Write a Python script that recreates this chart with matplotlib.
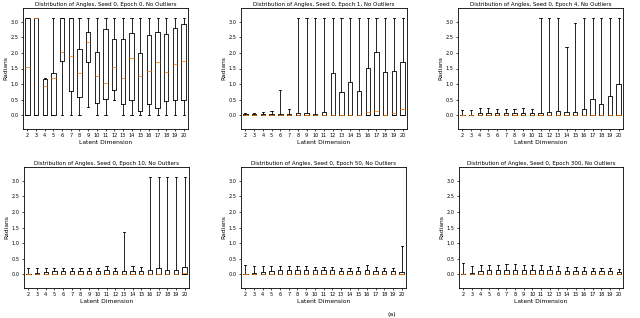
import matplotlib
matplotlib.use("Agg")
import matplotlib.pyplot as plt

dims = list(range(2, 21))
epochs = [0, 1, 4, 10, 50, 300]
PI = 3.14

# Epoch 0
e0_q1 = [0, 0, 0, 0, 1.73, 0.79, 0.59, 1.70, 0.38, 0.51, 0.82, 0.35, 0.49, 0.13, 0.35, 0.22, 0.44, 0.48, 0.48]
e0_med = [1.55, PI, 0.93, 1.19, 2.02, 1.91, 1.36, 2.37, 1.25, 1.04, 1.55, 1.20, 1.85, 1.25, 1.41, 1.71, 1.39, 1.66, 1.75]
e0_q3 = [PI, PI, 1.15, 1.36, PI, PI, 2.12, 2.69, 2.04, 2.77, 2.44, 2.45, 2.64, 1.99, 2.57, 2.69, 2.62, 2.80, 2.93]
e0_lo = [0, 0, 0, 0, 0, 0, 0, 0.26, 0, 0, 0.50, 0, 0, 0, 0, 0, 0, 0, 0]
e0_hi = [PI, PI, 1.18, PI, PI, PI, PI, PI, PI, PI, PI, PI, PI, PI, PI, PI, PI, PI, PI]

# Epoch 1
e1_q1 = [0] * 19
e1_med = [0, 0, 0, 0, 0, 0, 0, 0, 0, 0, 0, 0, 0, 0, 0.09, 0.12, 0, 0.05, 0.18]
e1_q3 = [0.02, 0.02, 0.02, 0.03, 0.02, 0.02, 0.05, 0.05, 0.04, 0.10, 1.36, 0.73, 1.06, 0.76, 1.52, 2.04, 1.39, 1.41, 1.71]
e1_lo = [0] * 19
e1_hi = [0.07, 0.07, 0.10, 0.13, 0.81, 0.19, PI, PI, PI, PI, PI, PI, PI, PI, PI, PI, PI, PI, PI]

# Epoch 4
e4_q1 = [0] * 19
e4_med = [0] * 19
e4_q3 = [0.01, 0.01, 0.05, 0.05, 0.05, 0.05, 0.05, 0.06, 0.05, 0.08, 0.11, 0.12, 0.09, 0.11, 0.21, 0.51, 0.34, 0.61, 1.00]
e4_lo = [0] * 19
e4_hi = [0.16, 0.16, 0.22, 0.22, 0.21, 0.19, 0.19, 0.22, 0.20, PI, PI, PI, 2.20, 2.97, PI, PI, PI, PI, PI]

# Epoch 10
e10_q1 = [0] * 19
e10_med = [0, 0, 0, 0, 0, 0, 0, 0, 0, 0, 0, 0, 0, 0, 0, 0, 0, 0, 0.03]
e10_q3 = [0.01, 0.03, 0.07, 0.10, 0.10, 0.10, 0.10, 0.10, 0.10, 0.12, 0.10, 0.09, 0.10, 0.10, 0.13, 0.20, 0.13, 0.13, 0.22]
e10_lo = [0] * 19
e10_hi = [0.20, 0.20, 0.20, 0.20, 0.20, 0.19, 0.20, 0.20, 0.19, 0.26, 0.20, 1.34, 0.25, 0.24, PI, PI, PI, PI, PI]

# Epoch 50
e50_q1 = [0] * 19
e50_med = [0.01] * 19
e50_q3 = [0.01, 0.03, 0.07, 0.10, 0.13, 0.13, 0.14, 0.13, 0.14, 0.14, 0.12, 0.11, 0.10, 0.11, 0.12, 0.10, 0.10, 0.10, 0.07]
e50_lo = [0] * 19
e50_hi = [0.30, 0.27, 0.27, 0.27, 0.27, 0.27, 0.25, 0.25, 0.24, 0.24, 0.23, 0.21, 0.21, 0.22, 0.28, 0.23, 0.21, 0.20, 0.90]

# Epoch 300
e300_q1 = [0] * 19
e300_med = [0.01] * 19
e300_q3 = [0.01, 0.04, 0.10, 0.12, 0.13, 0.13, 0.13, 0.13, 0.13, 0.13, 0.13, 0.11, 0.10, 0.10, 0.10, 0.10, 0.10, 0.10, 0.08]
e300_lo = [0] * 19
e300_hi = [0.35, 0.27, 0.30, 0.30, 0.30, 0.32, 0.32, 0.28, 0.28, 0.28, 0.27, 0.25, 0.23, 0.23, 0.22, 0.21, 0.21, 0.20, 0.17]

panels = [
    (e0_q1, e0_med, e0_q3, e0_lo, e0_hi),
    (e1_q1, e1_med, e1_q3, e1_lo, e1_hi),
    (e4_q1, e4_med, e4_q3, e4_lo, e4_hi),
    (e10_q1, e10_med, e10_q3, e10_lo, e10_hi),
    (e50_q1, e50_med, e50_q3, e50_lo, e50_hi),
    (e300_q1, e300_med, e300_q3, e300_lo, e300_hi),
]

fig = plt.figure(figsize=(6.4, 3.18), dpi=100)
W, H = 640, 318
rects = [
    (23, 8, 188, 129), (241, 8, 407, 129), (458, 8, 623, 129),
    (24, 167, 189, 288), (241, 167, 406, 288), (459, 167, 623, 288),
]

for (x0, y0, x1, y1), ep, (q1, med, q3, lo, hi) in zip(rects, epochs, panels):
    ax = fig.add_axes([x0 / W, 1 - y1 / H, (x1 - x0) / W, (y1 - y0) / H])
    stats = []
    for d, a, m, b, l, h in zip(dims, q1, med, q3, lo, hi):
        stats.append(dict(label=str(d), q1=a, med=m, q3=b, whislo=l, whishi=h, fliers=[]))
    ax.bxp(stats, positions=range(1, len(dims) + 1), showfliers=False,
           boxprops=dict(color='black', linewidth=0.6),
           whiskerprops=dict(color='black', linewidth=0.6),
           capprops=dict(color='black', linewidth=0.6),
           medianprops=dict(color='#ff7f0e', linewidth=0.6),
           widths=0.5)
    ax.set_ylim(-0.45, 3.45)
    ax.set_yticks([0.0, 0.5, 1.0, 1.5, 2.0, 2.5, 3.0])
    ax.set_xticks(range(1, len(dims) + 1))
    ax.set_xticklabels([str(d) for d in dims])
    ax.tick_params(labelsize=3.6, length=1.5, width=0.5, pad=1.5)
    for s in ax.spines.values():
        s.set_linewidth(0.6)
    ax.set_title(f"Distribution of Angles, Seed 0, Epoch {ep}, No Outliers", fontsize=4.0, pad=1.5)
    ax.set_xlabel("Latent Dimension", fontsize=4.3, labelpad=1)
    ax.set_ylabel("Radians", fontsize=4.3, labelpad=2)

fig.text(392 / W, 1 / H, "(a)", fontsize=4.5, ha='center', va='bottom')
fig.savefig("out.png", dpi=100)
